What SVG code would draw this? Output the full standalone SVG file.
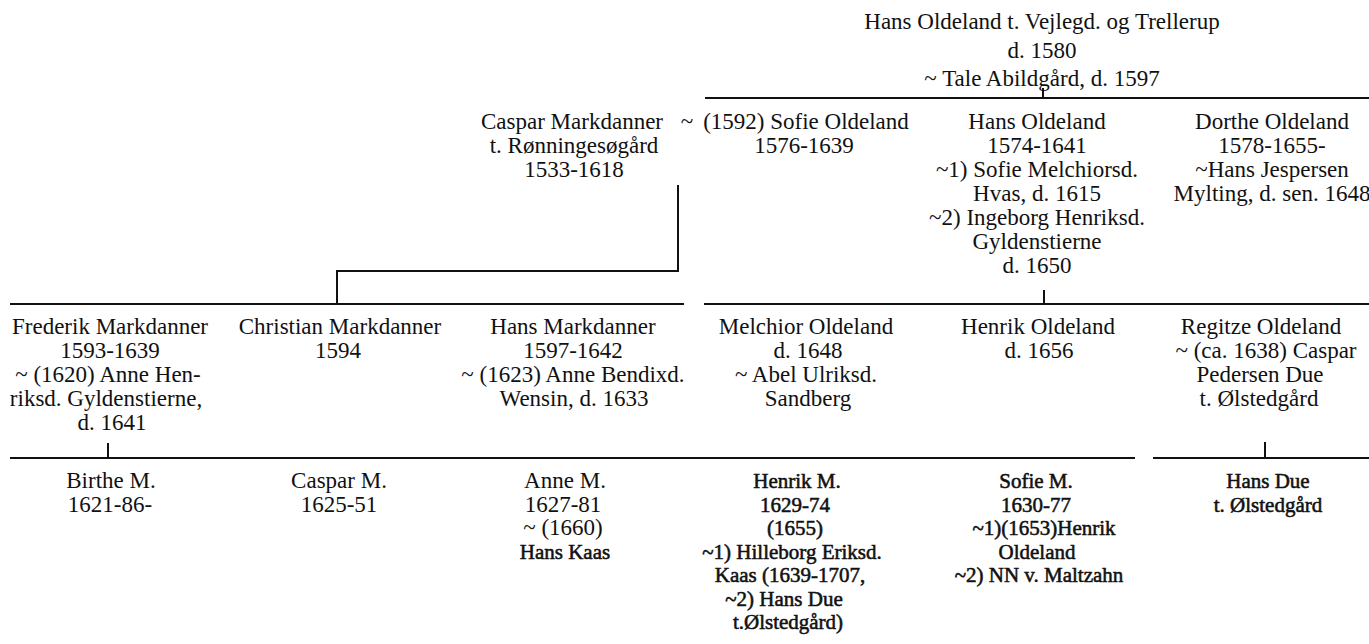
<svg xmlns="http://www.w3.org/2000/svg" width="1369" height="644" viewBox="0 0 1369 644">
<style>
.t{font-family:"Liberation Serif","Times New Roman",serif;font-size:23px;fill:#111;text-anchor:middle}
.b{font-size:21px;stroke:#111;stroke-width:0.55px}
.ln{stroke:#111;stroke-width:2;fill:none}
</style>
<rect width="1369" height="644" fill="#fff"/>
<g id="connectors" class="ln">
<path d="M705 98H1369"/>
<path d="M1043 88V98"/>
<path d="M678 185V271H337V304"/>
<path d="M10 304H684"/>
<path d="M704 304H1369"/>
<path d="M1044 290V304"/>
<path d="M10 458H1135"/>
<path d="M1153 458H1369"/>
<path d="M108 443V458"/>
<path d="M1265 442V458"/>
</g>
<g id="hans-oldeland-sr" class="t">
<text x="1042" y="29">Hans Oldeland t. Vejlegd. og Trellerup</text>
<text x="1042" y="58">d. 1580</text>
<text x="1042" y="86">~ Tale Abildgård, d. 1597</text>
</g>
<g id="caspar-markdanner" class="t">
<text x="572" y="129">Caspar Markdanner<tspan x="687">~</tspan></text>
<text x="574" y="153">t. Rønningesøgård</text>
<text x="574" y="177">1533-1618</text>
</g>
<g id="sofie-oldeland" class="t">
<text x="806" y="129">(1592) Sofie Oldeland</text>
<text x="804" y="153">1576-1639</text>
</g>
<g id="hans-oldeland-jr" class="t">
<text x="1037" y="129">Hans Oldeland</text>
<text x="1037" y="153">1574-1641</text>
<text x="1037" y="177">~1) Sofie Melchiorsd.</text>
<text x="1037" y="201">Hvas, d. 1615</text>
<text x="1037" y="225">~2) Ingeborg Henriksd.</text>
<text x="1037" y="249">Gyldenstierne</text>
<text x="1037" y="273">d. 1650</text>
</g>
<g id="dorthe-oldeland" class="t">
<text x="1272" y="129">Dorthe Oldeland</text>
<text x="1272" y="153">1578-1655-</text>
<text x="1272" y="177">~Hans Jespersen</text>
<text x="1272" y="201">Mylting, d. sen. 1648</text>
</g>
<g id="frederik-markdanner" class="t">
<text x="110" y="334">Frederik Markdanner</text>
<text x="110" y="358">1593-1639</text>
<text x="108" y="382">~ (1620) Anne Hen-</text>
<text x="106" y="406">riksd. Gyldenstierne,</text>
<text x="112" y="430">d. 1641</text>
</g>
<g id="christian-markdanner" class="t">
<text x="340" y="334">Christian Markdanner</text>
<text x="338" y="358">1594</text>
</g>
<g id="hans-markdanner" class="t">
<text x="573" y="334">Hans Markdanner</text>
<text x="573" y="358">1597-1642</text>
<text x="573" y="382">~ (1623) Anne Bendixd.</text>
<text x="574" y="406">Wensin, d. 1633</text>
</g>
<g id="melchior-oldeland" class="t">
<text x="806" y="334">Melchior Oldeland</text>
<text x="808" y="358">d. 1648</text>
<text x="806" y="382">~ Abel Ulriksd.</text>
<text x="808" y="406">Sandberg</text>
</g>
<g id="henrik-oldeland" class="t">
<text x="1038" y="334">Henrik Oldeland</text>
<text x="1039" y="358">d. 1656</text>
</g>
<g id="regitze-oldeland" class="t">
<text x="1261" y="334">Regitze Oldeland</text>
<text x="1266" y="358">~ (ca. 1638) Caspar</text>
<text x="1260" y="382">Pedersen Due</text>
<text x="1259" y="406">t. Ølstedgård</text>
</g>
<g id="birthe-m" class="t">
<text x="111" y="488">Birthe M.</text>
<text x="110" y="511.5">1621-86-</text>
</g>
<g id="caspar-m" class="t">
<text x="339" y="488">Caspar M.</text>
<text x="339" y="511.5">1625-51</text>
</g>
<g id="anne-m" class="t">
<text x="565" y="488">Anne M.</text>
<text x="563" y="511.5">1627-81</text>
<text x="563" y="535">~ (1660)</text>
<text x="565" y="558.5" class="b">Hans Kaas</text>
</g>
<g id="henrik-m" class="t b">
<text x="797" y="488">Henrik M.</text>
<text x="795" y="511.5">1629-74</text>
<text x="795" y="535">(1655)</text>
<text x="792" y="558.5">~1) Hilleborg Eriksd.</text>
<text x="790" y="582">Kaas (1639-1707,</text>
<text x="784" y="605.5">~2) Hans Due</text>
<text x="788" y="629">t.Ølstedgård)</text>
</g>
<g id="sofie-m" class="t b">
<text x="1036" y="488">Sofie M.</text>
<text x="1036" y="511.5">1630-77</text>
<text x="1044" y="535">~1)(1653)Henrik</text>
<text x="1037" y="558.5">Oldeland</text>
<text x="1039" y="582">~2) NN v. Maltzahn</text>
</g>
<g id="hans-due" class="t b">
<text x="1268" y="488">Hans Due</text>
<text x="1268" y="511.5">t. Ølstedgård</text>
</g>
</svg>
